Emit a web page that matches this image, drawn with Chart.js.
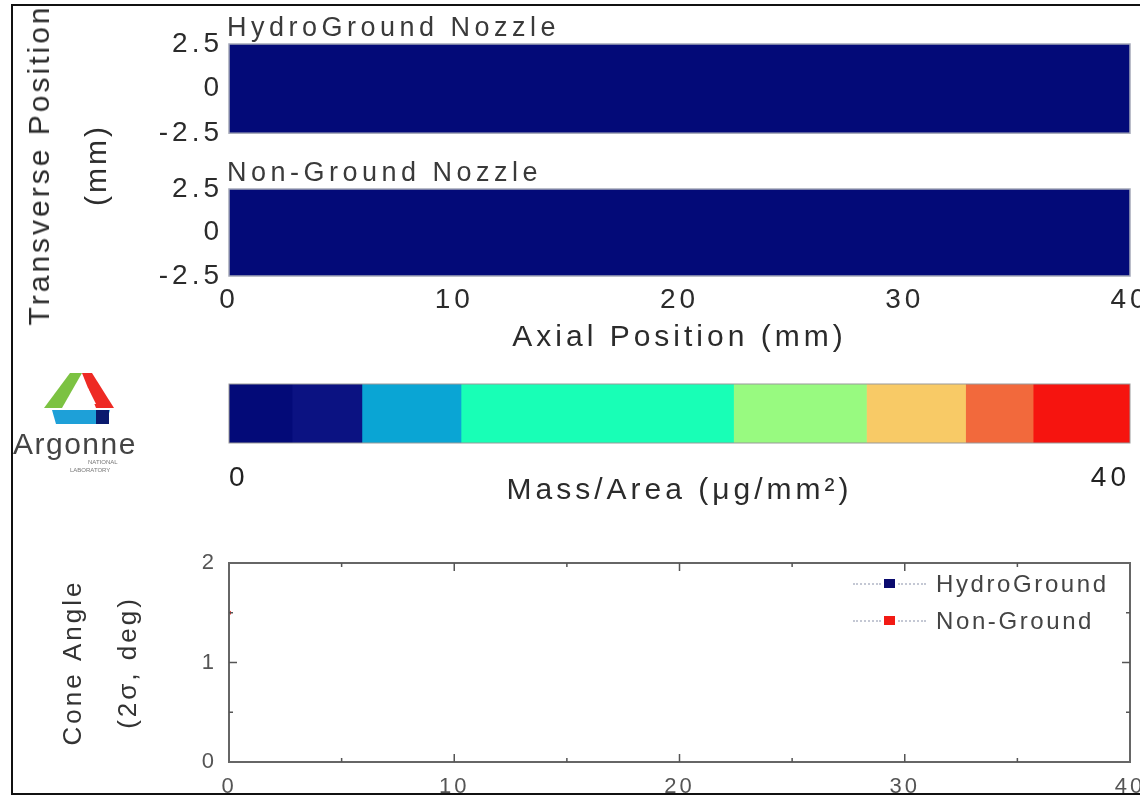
<!DOCTYPE html>
<html>
<head>
<meta charset="utf-8">
<script src="https://cdn.jsdelivr.net/npm/chart.js@4.4.1/dist/chart.umd.min.js"></script>
<style>
  body { margin: 0; background: #fff; width: 1140px; height: 796px; overflow: hidden; position: relative;
         font-family: 'Liberation Sans', Arial, sans-serif; }
  canvas { position: absolute; left: 0; }
  .frame { position: absolute; left: 11px; top: 4px; width: 1140px; height: 787px;
           border: 2px solid #111; border-right: none; pointer-events: none; z-index: 5; }
  .lbl { position: absolute; color: #2b2b2b; white-space: nowrap; }
  .vt { transform: translate(-50%, -50%) rotate(-90deg); }
  .legend { position: absolute; left: 853px; top: 565px; font-size: 24px; letter-spacing: 2.6px; color: #444; z-index: 3; }
  .legend .row { height: 37px; line-height: 37px; display: flex; align-items: center; }
  .legend .dash { display: inline-block; width: 28px; border-top: 2px dotted #c4c8d4; }
  .legend .sq { display: inline-block; width: 11px; height: 9px; margin: 0 3px; }
  .legend .txt { margin-left: 10px; }
</style>
</head>
<body>
<canvas id="hydro" style="top:0" width="1160" height="156"></canvas>
<canvas id="nonground" style="top:150px" width="1160" height="210"></canvas>
<canvas id="colorbar" style="top:370px" width="1160" height="140"></canvas>
<canvas id="cone" style="top:530px" width="1160" height="263"></canvas>

<div class="lbl vt" style="left:39px;top:165px;font-size:30px;letter-spacing:3px">Transverse Position</div>
<div class="lbl vt" style="left:96px;top:165px;font-size:30px;letter-spacing:3px">(mm)</div>
<div class="lbl" style="left:227px;top:12px;font-size:27px;letter-spacing:4.5px;color:#3a3a3a">HydroGround Nozzle</div>
<div class="lbl" style="left:227px;top:157px;font-size:27px;letter-spacing:4.5px;color:#3a3a3a">Non-Ground Nozzle</div>

<svg style="position:absolute;left:0;top:368px" width="160" height="115">
  <polygon points="70,5 82,5 62,40 44,40" fill="#7cc242"/>
  <polygon points="82,5 92,5 114,40 96,40" fill="#ee2a24"/>
  <polygon points="76,20 88,20 96,36 68,36" fill="#fff"/>
  <polygon points="52,42 110,42 106,56 56,56" fill="#1ea0d8"/>
  <rect x="96" y="42" width="13" height="14" fill="#0a1a6e"/>
  <text x="13" y="86" font-size="30" letter-spacing="1.5" fill="#444">Argonne</text>
  <text x="88" y="96" font-size="6" fill="#777">NATIONAL</text>
  <text x="70" y="104" font-size="6" fill="#777">LABORATORY</text>
</svg>

<div class="legend">
  <div class="row"><span class="dash"></span><span class="sq" style="background:#0a0a6e"></span><span class="dash"></span><span class="txt">HydroGround</span></div>
  <div class="row"><span class="dash"></span><span class="sq" style="background:#f21a14"></span><span class="dash"></span><span class="txt">Non-Ground</span></div>
</div>
<div class="frame"></div>

<script>
// Spray maps
const axialTicks = [0, 10, 20, 30, 40];
const transverseTicks = [-2.5, 0, 2.5];
const axialEdges = [0, 40];
const hydroMass = [0, 0];
const nonGroundMass = [0, 0];

// Colorbar (Mass/Area)
const massBounds = [0, 2.8, 5.9, 10.3, 22.4, 28.3, 32.7, 35.7, 40];
const massTicks = [0, 40];
const massColors = ['#030a78', '#0b1282', '#0aa5d4', '#18ffb6', '#98fa80', '#f8ca66', '#f2693c', '#f6140f'];

// Cone angle
const coneTicks = [0, 1, 2];
const hydroAxial = [];
const hydroCone = [];
const nonGroundAxial = [0];
const nonGroundCone = [1.5];

const FONT = "'Liberation Sans', Arial, sans-serif";

function massColor(m) {
    for (let i = 0; i < massColors.length; i++) {
        if (m < massBounds[i + 1]) return massColors[i];
    }
    return massColors[massColors.length - 1];
}

// letter spacing, MATLAB text is spread out
const spacing = {
    id: 'spacing',
    beforeLayout(chart, args, opts) { chart.ctx.letterSpacing = opts.px + 'px'; },
    beforeDraw(chart, args, opts) { chart.ctx.letterSpacing = opts.px + 'px'; }
};

// box round the plot area + inner ticks
const boxPlugin = {
    id: 'box',
    afterDatasetsDraw(chart, args, opts) {
        const { ctx, chartArea: a } = chart;
        ctx.save();
        ctx.strokeStyle = opts.color;
        ctx.lineWidth = opts.width;
        ctx.strokeRect(a.left, a.top, a.right - a.left, a.bottom - a.top);
        if (opts.ticks) {
            const x = chart.scales.x, y = chart.scales.y;
            ctx.strokeStyle = '#555';
            ctx.lineWidth = 1.5;
            ctx.beginPath();
            for (let v = 5; v < 40; v += 5) {
                const px = x.getPixelForValue(v), len = v % 10 ? 4 : 8;
                ctx.moveTo(px, a.bottom); ctx.lineTo(px, a.bottom - len);
                ctx.moveTo(px, a.top); ctx.lineTo(px, a.top + len);
            }
            for (let v = 0.5; v < 2; v += 0.5) {
                const py = y.getPixelForValue(v), len = v % 1 ? 4 : 8;
                ctx.moveTo(a.left, py); ctx.lineTo(a.left + len, py);
                ctx.moveTo(a.right, py); ctx.lineTo(a.right - len, py);
            }
            ctx.stroke();
        }
        ctx.restore();
    }
};

function bandChart(id, mass, padTop, showX) {
    return new Chart(document.getElementById(id), {
        type: 'line',
        data: {
            datasets: [{
                data: axialEdges.map(x => ({ x: x, y: transverseTicks[transverseTicks.length - 1] })),
                fill: { value: transverseTicks[0] },
                backgroundColor: massColor(mass[0]),
                borderWidth: 0,
                pointRadius: 0
            }]
        },
        options: {
            responsive: false,
            devicePixelRatio: 1,
            animation: false,
            layout: { padding: { top: padTop, right: 30, bottom: showX ? 0 : 17, left: 0 } },
            scales: {
                x: {
                    type: 'linear', min: 0, max: 40,
                    display: showX,
                    afterBuildTicks: s => { s.ticks = axialTicks.map(v => ({ value: v })); },
                    afterFit: s => { s.height = showX ? 84 : 0; },
                    grid: { display: false, drawTicks: false },
                    border: { display: false },
                    ticks: { autoSkip: false, maxRotation: 0, padding: 7, color: '#2b2b2b', font: { family: FONT, size: 28 } },
                    title: {
                        display: true, text: 'Axial Position (mm)', color: '#2b2b2b',
                        font: { family: FONT, size: 30 }, padding: { top: 0, bottom: 4 }
                    }
                },
                y: {
                    type: 'linear', min: -2.5, max: 2.5,
                    afterBuildTicks: s => { s.ticks = transverseTicks.map(v => ({ value: v })); },
                    afterFit: s => { s.width = 229; },
                    grid: { display: false, drawTicks: false },
                    border: { display: false },
                    ticks: { padding: 6, color: '#2b2b2b', font: { family: FONT, size: 28 } }
                }
            },
            plugins: {
                legend: { display: false },
                tooltip: { enabled: false },
                spacing: { px: 4 },
                box: { color: '#a4a8b8', width: 1.5 }
            }
        },
        plugins: [spacing, boxPlugin]
    });
}

bandChart('hydro', hydroMass, 44, false);
bandChart('nonground', nonGroundMass, 39, true);

// Colorbar
new Chart(document.getElementById('colorbar'), {
    type: 'bar',
    data: {
        labels: ['mass'],
        datasets: massColors.map((c, i) => ({
            data: [[massBounds[i], massBounds[i + 1]]],
            backgroundColor: c,
            borderWidth: 0,
            grouped: false,
            barPercentage: 1,
            categoryPercentage: 1
        }))
    },
    options: {
        indexAxis: 'y',
        responsive: false,
        devicePixelRatio: 1,
        animation: false,
        layout: { padding: { top: 14, right: 30, left: 229, bottom: 0 } },
        scales: {
            x: {
                type: 'linear', min: 0, max: 40,
                afterBuildTicks: s => { s.ticks = massTicks.map(v => ({ value: v })); },
                afterFit: s => { s.height = 67; },
                grid: { display: false, drawTicks: false },
                border: { display: false },
                ticks: { align: 'inner', padding: 18, color: '#222', font: { family: FONT, size: 28 } },
                title: {
                    display: true, text: 'Mass/Area (\u03bcg/mm\u00b2)', color: '#2b2b2b',
                    font: { family: FONT, size: 30 }, padding: { top: 0, bottom: 1 }
                }
            },
            y: { display: false }
        },
        plugins: {
            legend: { display: false },
            tooltip: { enabled: false },
            spacing: { px: 4 },
            box: { color: '#999', width: 1 }
        }
    },
    plugins: [spacing, boxPlugin]
});

// Cone angle
new Chart(document.getElementById('cone'), {
    type: 'line',
    data: {
        datasets: [{
            label: 'HydroGround',
            data: hydroAxial.map((x, i) => ({ x: x, y: hydroCone[i] })),
            borderColor: '#c4c8d4',
            borderDash: [2, 2],
            borderWidth: 1,
            pointStyle: 'rect',
            pointRadius: 4,
            pointBackgroundColor: '#0a0a6e',
            pointBorderColor: '#0a0a6e'
        }, {
            label: 'Non-Ground',
            data: nonGroundAxial.map((x, i) => ({ x: x, y: nonGroundCone[i] })),
            borderColor: '#c4c8d4',
            borderDash: [2, 2],
            borderWidth: 1,
            pointStyle: 'rect',
            pointRadius: 2,
            pointBackgroundColor: '#f21a14',
            pointBorderColor: '#f21a14'
        }]
    },
    options: {
        responsive: false,
        devicePixelRatio: 1,
        animation: false,
        layout: { padding: { top: 33, right: 30, left: 0, bottom: 0 } },
        scales: {
            x: {
                type: 'linear', min: 0, max: 40,
                afterBuildTicks: s => { s.ticks = axialTicks.map(v => ({ value: v })); },
                afterFit: s => { s.height = 31; },
                grid: { display: false, drawTicks: false },
                border: { display: false },
                ticks: { autoSkip: false, maxRotation: 0, padding: 12, color: '#555', font: { family: FONT, size: 22 } }
            },
            y: {
                type: 'linear', min: 0, max: 2,
                afterBuildTicks: s => { s.ticks = coneTicks.map(v => ({ value: v })); },
                afterFit: s => { s.width = 229; },
                grid: { display: false, drawTicks: false },
                border: { display: false },
                ticks: { padding: 12, color: '#555', font: { family: FONT, size: 22 } },
                title: {
                    display: true, text: ['Cone Angle', '(2\u03c3, deg)'], color: '#333',
                    font: { family: FONT, size: 26, lineHeight: 2.1 }, padding: { top: 47, bottom: 0 }
                }
            }
        },
        plugins: {
            legend: { display: false },
            tooltip: { enabled: false },
            spacing: { px: 3 },
            box: { color: '#666', width: 2, ticks: true }
        }
    },
    plugins: [spacing, boxPlugin]
});
</script>
</body>
</html>
